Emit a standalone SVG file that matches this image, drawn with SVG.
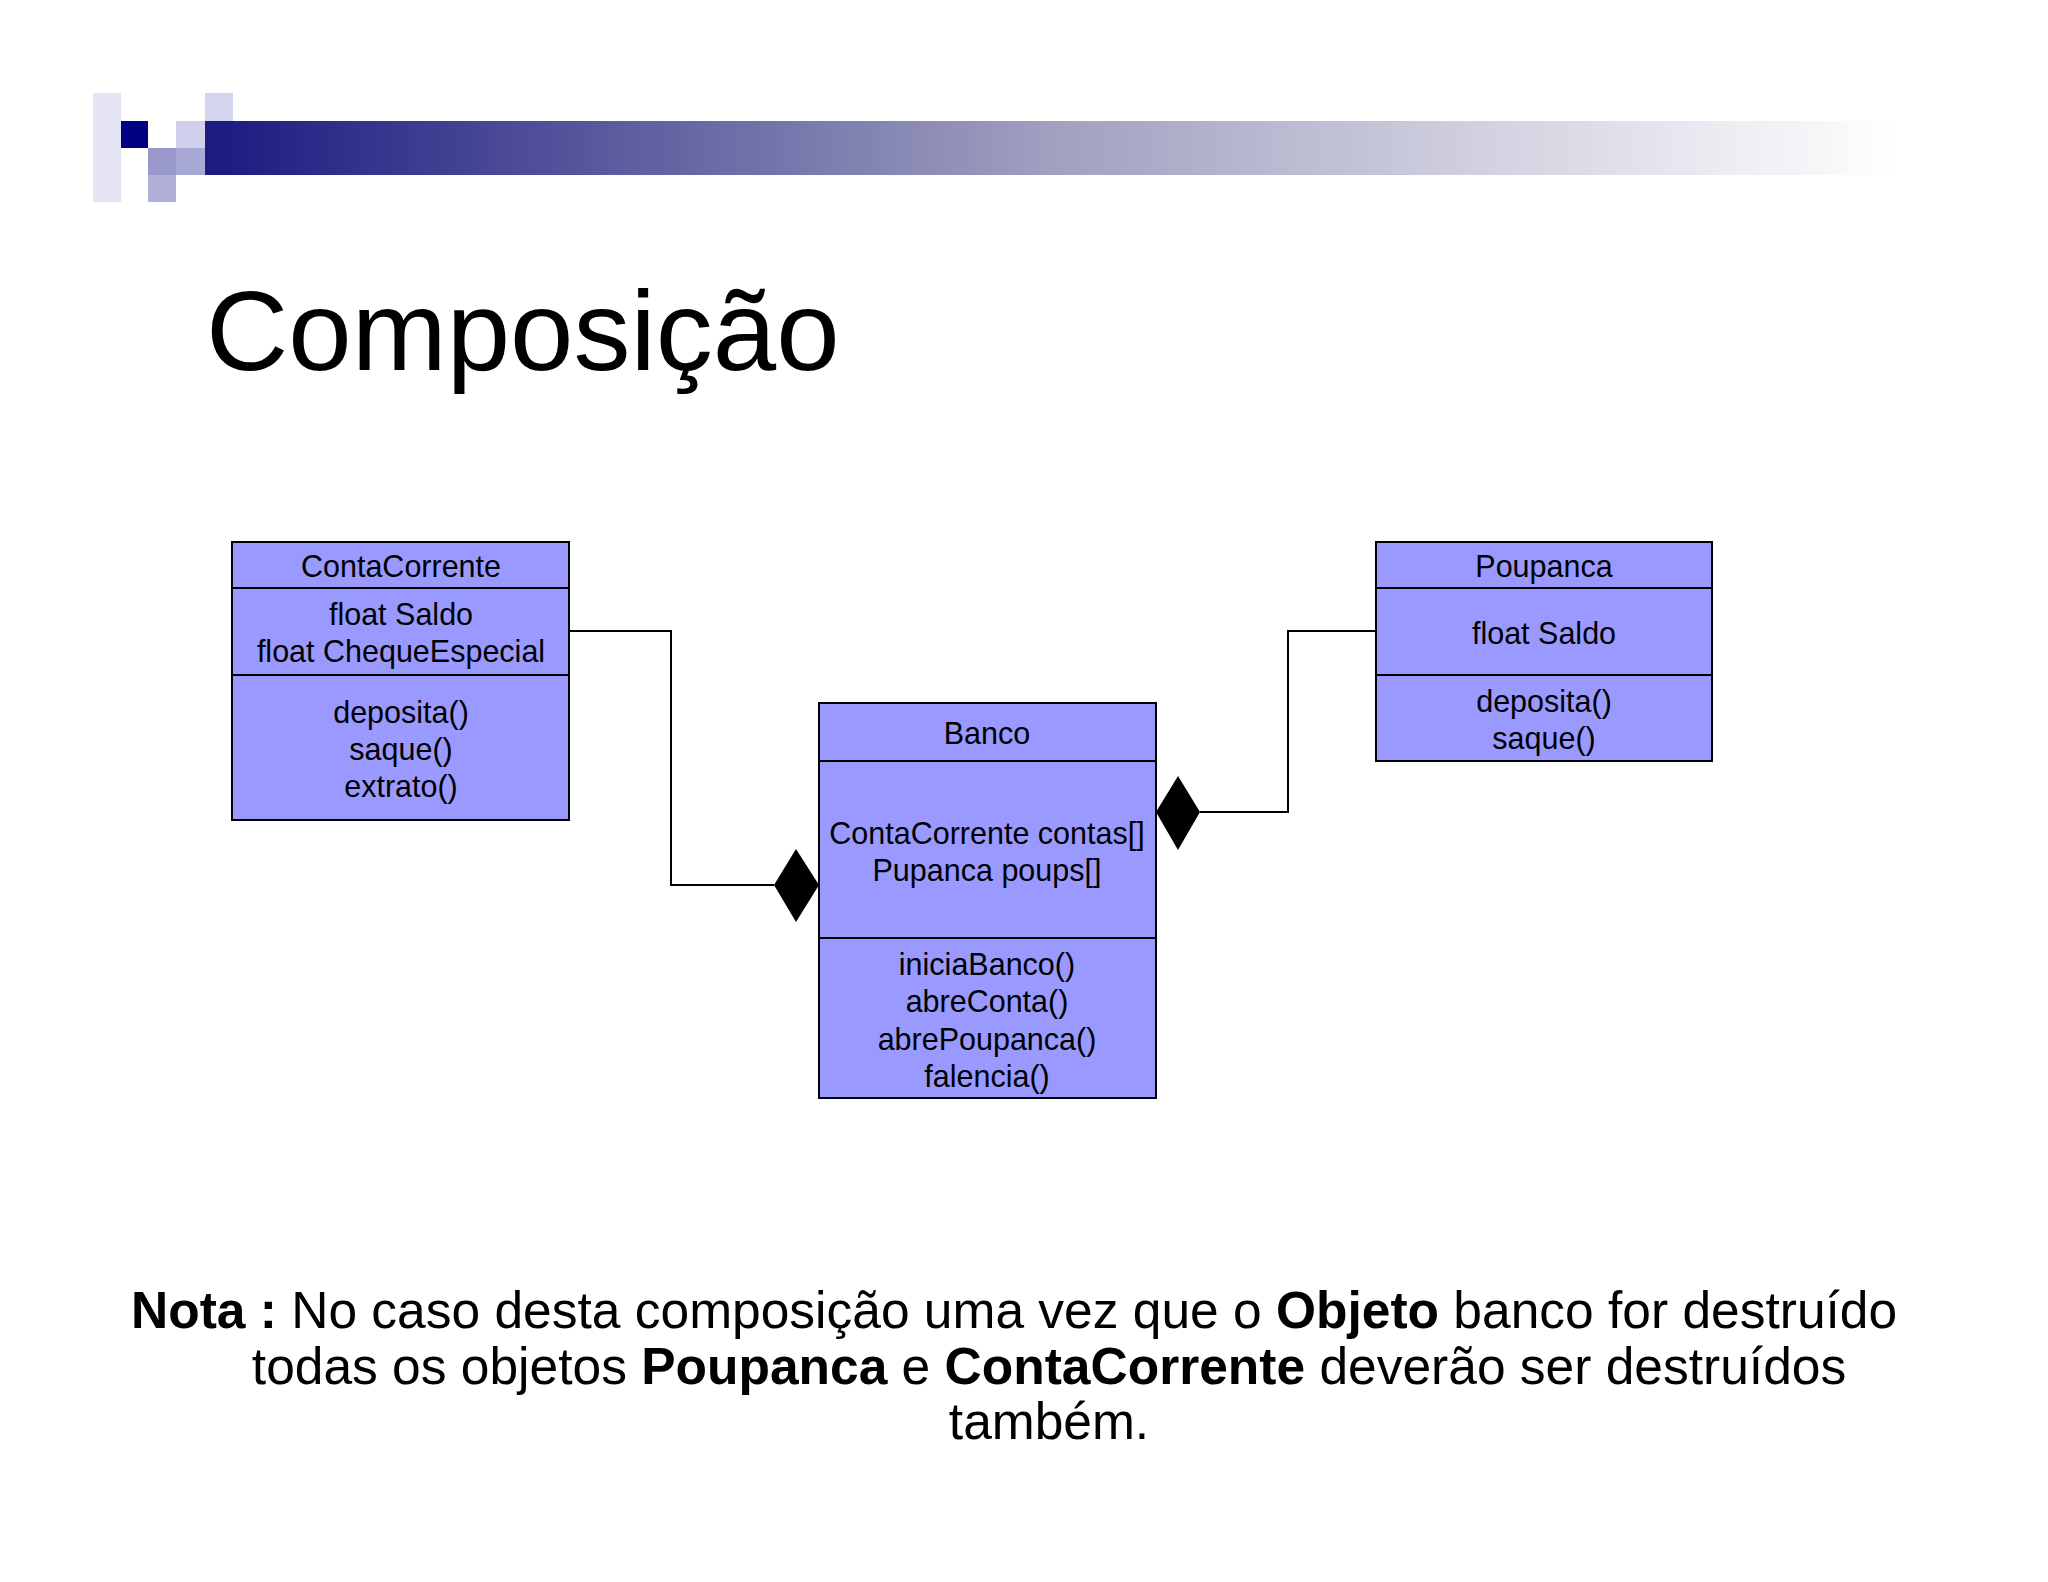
<svg xmlns="http://www.w3.org/2000/svg" width="2048" height="1582" viewBox="0 0 2048 1582">
<defs>
<linearGradient id="bar" x1="0" x2="1" y1="0" y2="0">
<stop offset="0" stop-color="#1a1a80"/>
<stop offset="0.5" stop-color="#a0a0c0"/>
<stop offset="1" stop-color="#ffffff"/>
</linearGradient>
</defs>
<style>
.box{fill:#9999ff;stroke:#000;stroke-width:2}
.ln{stroke:#000;stroke-width:2}
.t{font-family:"Liberation Sans",Arial,sans-serif;font-size:30.5px;text-anchor:middle;fill:#000}
.c{fill:none;stroke:#000;stroke-width:2}
.n{font-family:"Liberation Sans",Arial,sans-serif;font-size:51.5px;fill:#000}
</style>
<rect width="2048" height="1582" fill="#fff"/>
<g id="header">
<rect x="205" y="121" width="1690" height="54" fill="url(#bar)"/>
<rect x="93" y="93" width="28" height="109" fill="#e4e4f4"/>
<rect x="121" y="121" width="27" height="27" fill="#000080"/>
<rect x="148" y="148" width="28" height="27" fill="#9898cc"/>
<rect x="148" y="175" width="28" height="27" fill="#b0b0d8"/>
<rect x="176" y="121" width="29" height="27" fill="#d0d0ec"/>
<rect x="176" y="148" width="29" height="27" fill="#a8a8d4"/>
<rect x="205" y="93" width="28" height="28" fill="#d4d4ee"/>
</g>
<text x="206" y="370" font-family="Liberation Sans,Arial,sans-serif" font-size="114">Composição</text>
<g id="ContaCorrente">
<rect class="box" x="232" y="542" width="337" height="278"/>
<line class="ln" x1="232" y1="588" x2="569" y2="588"/>
<line class="ln" x1="232" y1="675" x2="569" y2="675"/>
<text class="t" x="401" y="577">ContaCorrente</text>
<text class="t" x="401" y="625">float Saldo</text>
<text class="t" x="401" y="662">float ChequeEspecial</text>
<text class="t" x="401" y="723">deposita()</text>
<text class="t" x="401" y="760">saque()</text>
<text class="t" x="401" y="797">extrato()</text>
</g>
<g id="Poupanca">
<rect class="box" x="1376" y="542" width="336" height="219"/>
<line class="ln" x1="1376" y1="588" x2="1712" y2="588"/>
<line class="ln" x1="1376" y1="675" x2="1712" y2="675"/>
<text class="t" x="1544" y="577">Poupanca</text>
<text class="t" x="1544" y="644">float Saldo</text>
<text class="t" x="1544" y="712">deposita()</text>
<text class="t" x="1544" y="749">saque()</text>
</g>
<g id="Banco">
<rect class="box" x="819" y="703" width="337" height="395"/>
<line class="ln" x1="819" y1="761" x2="1156" y2="761"/>
<line class="ln" x1="819" y1="938" x2="1156" y2="938"/>
<text class="t" x="987" y="744">Banco</text>
<text class="t" x="987" y="844">ContaCorrente contas[]</text>
<text class="t" x="987" y="881">Pupanca poups[]</text>
<text class="t" x="987" y="975">iniciaBanco()</text>
<text class="t" x="987" y="1012">abreConta()</text>
<text class="t" x="987" y="1050">abrePoupanca()</text>
<text class="t" x="987" y="1087">falencia()</text>
</g>
<g id="connectors">
<polyline class="c" points="569,631 671,631 671,885 774,885"/>
<polygon points="774,885 796,849 819,885 796,922" fill="#000"/>
<polyline class="c" points="1200,812 1288,812 1288,631 1376,631"/>
<polygon points="1156,812 1178,776 1200,812 1178,850" fill="#000"/>
</g>
<g id="note" class="n">
<text x="131" y="1328"><tspan font-weight="bold">Nota :</tspan> No caso desta composição uma vez que o <tspan font-weight="bold">Objeto</tspan> banco for destruído</text>
<text x="1049" y="1384" text-anchor="middle">todas os objetos <tspan font-weight="bold">Poupanca</tspan> e <tspan font-weight="bold">ContaCorrente</tspan> deverão ser destruídos</text>
<text x="1049" y="1439" text-anchor="middle">também.</text>
</g>
</svg>
